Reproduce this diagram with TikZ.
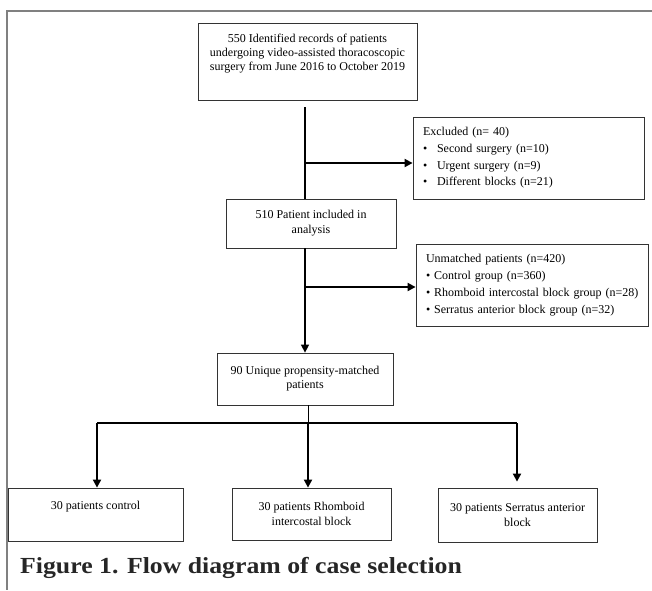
\documentclass[tikz,border=0pt]{standalone}
\usepackage{fontspec}
\setmainfont{Liberation Serif}
\newfontfamily\capfont{Liberation Serif}[FakeStretch=1.12]
\usetikzlibrary{arrows.meta}

\begin{document}
\begin{tikzpicture}[x=1pt,y=-1pt,
        box/.style={draw=black!80, line width=0.8pt, align=center, inner sep=0pt,
            font=\fontsize{12}{14}\selectfont},
        listbox/.style={box, align=left, inner xsep=4pt, text width=#1},
        flow/.style={line width=1.5pt},
        arr/.style={line width=1.8pt, -{Triangle[length=8pt,width=8pt]}}]
    \useasboundingbox (0,0) rectangle (652,590);
    % frame
    \draw[black!50, line width=1.3pt] (652,11) -- (7,11) -- (7,590);

    % boxes
    \node[box, minimum width=219pt, minimum height=77pt] (rec) at (307.5,61.5)
        {550 Identified records of patients\\undergoing video-assisted thoracoscopic\\surgery from June 2016 to October 2019\\\strut};
    \node[listbox=223pt, minimum width=231pt, minimum height=82pt] (excl) at (528.5,158)
        {\hspace*{6pt}Excluded (n= 40)\\[2.7pt]
         \hspace*{6pt}\makebox[14pt][l]{\textbullet}Second surgery (n=10)\\[2.7pt]
         \hspace*{6pt}\makebox[14pt][l]{\textbullet}Urgent surgery (n=9)\\[2.7pt]
         \hspace*{6pt}\makebox[14pt][l]{\textbullet}Different blocks (n=21)};
    \node[box, minimum width=170pt, minimum height=49pt] (incl) at (311,223.5)
        {510 Patient included in\\[1pt]analysis};
    \node[listbox=224pt, minimum width=232pt, minimum height=82pt] (unm) at (532,285)
        {\hspace*{6pt}Unmatched patients (n=420)\\[3pt]
         \hspace*{6pt}\textbullet{} Control group (n=360)\\[3pt]
         \hspace*{6pt}\textbullet{} Rhomboid intercostal block group (n=28)\\[3pt]
         \hspace*{6pt}\textbullet{} Serratus anterior block group (n=32)};
    \node[box, minimum width=176pt, minimum height=52pt] (match) at (305,379)
        {90 Unique propensity-matched\\patients};
    \node[box, minimum width=175pt, minimum height=53pt] (ctrl) at (95.5,514.5)
        {30 patients control\\\strut};
    \node[box, minimum width=159pt, minimum height=52pt] (rhom) at (311.5,514)
        {30 patients Rhomboid\\[1pt]intercostal block};
    \node[box, minimum width=159pt, minimum height=54pt] (serr) at (517.5,515)
        {30 patients Serratus anterior\\[1pt]block};

    % connectors
    \coordinate (top) at (305,107);
    \coordinate (e1) at (305,163);
    \coordinate (e2) at (305,287);
    \coordinate (fork) at (308,423);
    \coordinate (fl) at (97,423);
    \coordinate (fr) at (517,423);
    \draw[flow] (top) -- (top |- incl.north);
    \draw[arr] (e1) -- (e1 -| excl.west);
    \draw[flow, -{Triangle[length=8pt,width=8pt]}] (match.north |- incl.south) -- (match.north);
    \draw[arr] (e2) -- (e2 -| unm.west);
    \draw[line width=0.8pt] (match.south -| fork) -- (fork);
    \draw[line width=1.8pt] (fl) -- (fr);
    \draw[arr] (fl) -- (fl |- ctrl.north);
    \draw[arr] (fork) -- (fork |- rhom.north);
    \draw[arr, shorten >=6pt] (fr) -- (fr |- serr.north);

    % caption
    \node[anchor=base west, inner sep=0pt, text=black!85,
        font=\capfont\bfseries\fontsize{23}{28}\selectfont] (cap) at (20,573)
        {Figure 1. Flow diagram of case selection};
\end{tikzpicture}
\end{document}
